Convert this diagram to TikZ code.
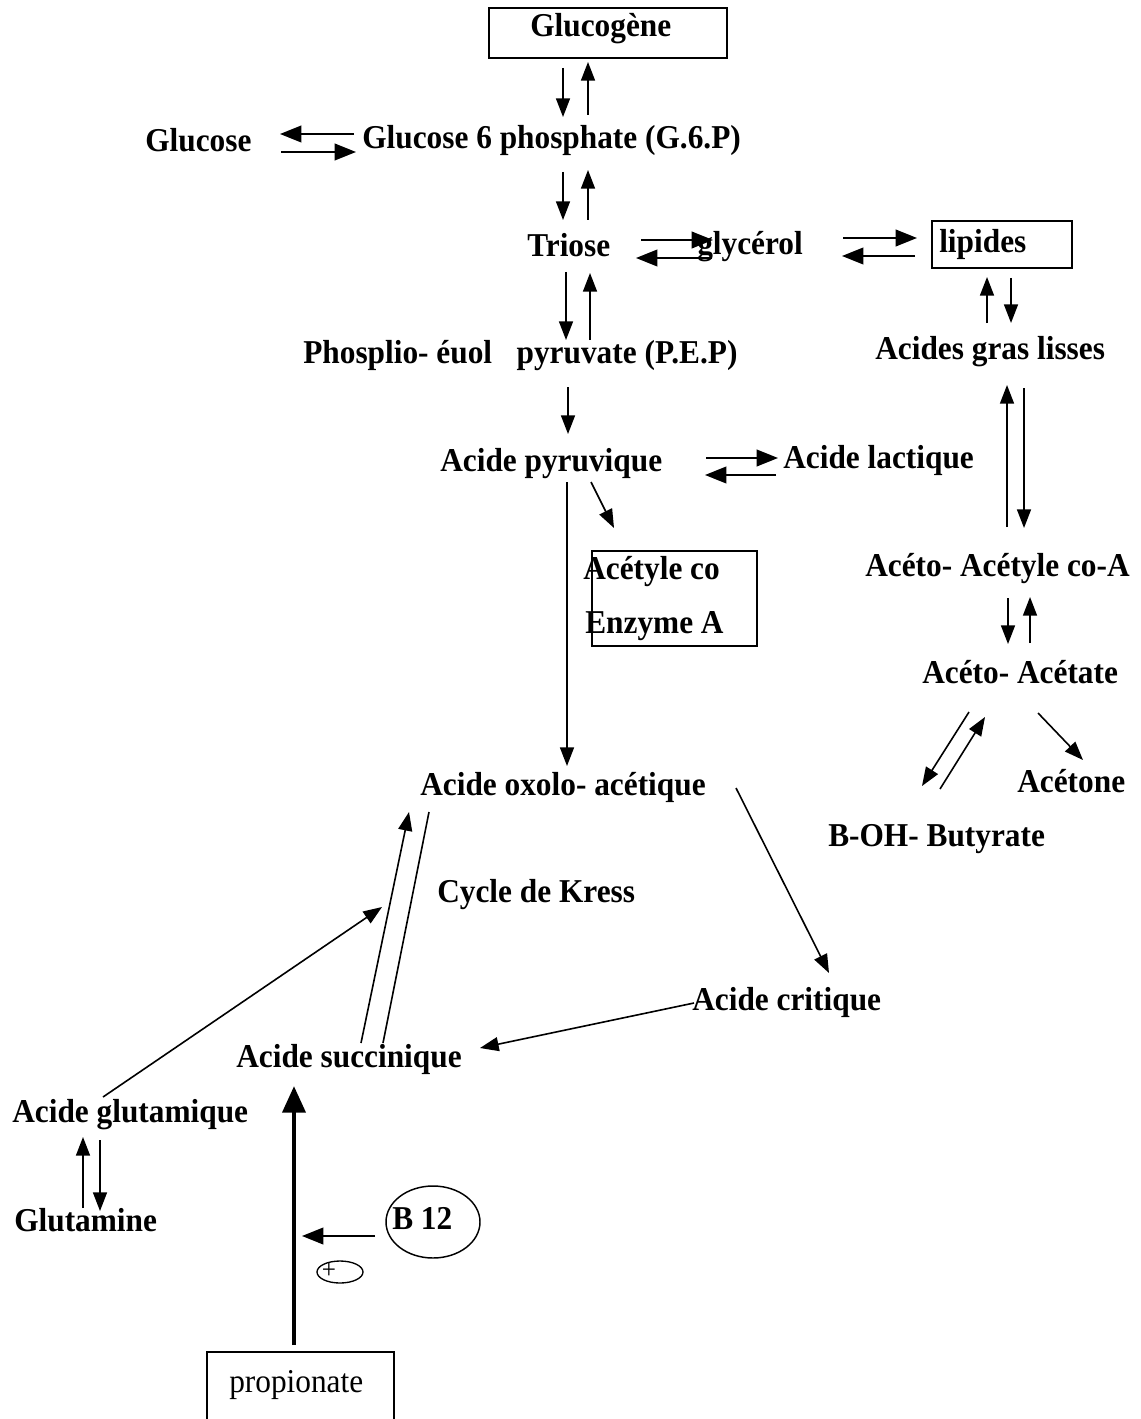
\documentclass[tikz,border=0pt]{standalone}
\usepackage{fontspec}
\setmainfont[FakeStretch=0.94]{Liberation Serif}
\usetikzlibrary{arrows.meta,shapes.geometric}
\begin{document}
\begin{tikzpicture}[x=0.75pt,y=-0.75pt,
  lbl/.style={anchor=base west,inner sep=0pt,font=\fontsize{25}{28}\selectfont\bfseries},
  plainlbl/.style={anchor=base west,inner sep=0pt,font=\fontsize{25}{28}\selectfont},
  boxnode/.style={draw,line width=1.5pt,rectangle,inner sep=0pt},
  arr/.style={line width=1.2pt,-{Triangle[length=14pt,width=10.5pt]}},
  harr/.style={line width=1.4pt,-{Triangle[length=16pt,width=12.5pt]}},
  ln/.style={line width=1.2pt},
  thickarr/.style={line width=3.6pt,-{Triangle[length=20pt,width=17pt]}}]
\useasboundingbox (0,0) rectangle (1140,1419);
% boxes
\node[boxnode,minimum width=178.5pt,minimum height=37.5pt] (bglyc) at (608,33) {};
\node[boxnode,minimum width=105pt,minimum height=35.25pt] (blip) at (1002,244.5) {};
\node[boxnode,minimum width=123.75pt,minimum height=71.25pt] (bacet) at (674.5,598.5) {};
\draw[line width=1.5pt] (207,1430) -- (207,1352) -- (394,1352) -- (394,1430);
\coordinate (bprop) at (300,1352);
% labels
\node[lbl] (glucogene) at (530,37) {Glucogène};
\node[lbl] (glucose) at (145,152) {Glucose};
\node[lbl] (g6p) at (362,149) {Glucose 6 phosphate (G.6.P)};
\node[lbl] (triose) at (527,257) {Triose};
\node[lbl] (glycerol) at (697,255) {glycérol};
\node[lbl] (lipides) at (939,253) {lipides};
\node[lbl] (pep) at (303,363) {Phosplio- éuol\enspace\ pyruvate (P.E.P)};
\node[lbl] (agl) at (875,359) {Acides gras lisses};
\node[lbl] (pyr) at (440,471) {Acide pyruvique};
\node[lbl] (lact) at (783,468) {Acide lactique};
\node[lbl] (acet1) at (583,579) {Acétyle co};
\node[lbl] (acet2) at (585,633) {Enzyme A};
\node[lbl] (aacoa) at (865,576) {Acéto- Acétyle co-A};
\node[lbl] (aa) at (922,683) {Acéto- Acétate};
\node[lbl] (acetone) at (1017,792) {Acétone};
\node[lbl] (boh) at (828,846) {B-OH- Butyrate};
\node[lbl] (oxolo) at (420,795) {Acide oxolo- acétique};
\node[lbl] (kress) at (437,902) {Cycle de Kress};
\node[lbl] (crit) at (692,1010) {Acide critique};
\node[lbl] (succ) at (236,1067) {Acide succinique};
\node[lbl] (glutq) at (12,1122) {Acide glutamique};
\node[lbl] (glutn) at (14,1231) {Glutamine};
\node[plainlbl] (prop) at (229,1392) {propionate};
\node[draw,ellipse,line width=1.1pt,minimum width=70.5pt,minimum height=54pt,inner sep=0pt] (b12e) at (433,1222) {};
\node[lbl] (b12) at (392,1229) {B 12};
\node[draw,ellipse,line width=1pt,minimum width=34.5pt,minimum height=16.5pt,inner sep=0pt] (pluse) at (340,1272) {};
\node[inner sep=0pt,font=\fontsize{20}{20}\selectfont] (plus) at (329,1271) {+};
% arrow endpoints
\coordinate (a1s) at (563,68); \coordinate (a1e) at (563,117);
\coordinate (a2s) at (588,115); \coordinate (a2e) at (588,62);
\coordinate (g1s) at (354,134); \coordinate (g1e) at (280,134);
\coordinate (g2s) at (281,152); \coordinate (g2e) at (356,152);
\coordinate (a3s) at (563,172); \coordinate (a3e) at (563,220);
\coordinate (a4s) at (588,220); \coordinate (a4e) at (588,170);
\coordinate (t1s) at (641,240); \coordinate (t1e) at (713,240);
\coordinate (t2s) at (712,258); \coordinate (t2e) at (636,258);
\coordinate (l1s) at (843,238); \coordinate (l1e) at (917,238);
\coordinate (l2s) at (915,256); \coordinate (l2e) at (842,256);
\coordinate (a5s) at (566,272); \coordinate (a5e) at (566,340);
\coordinate (a6s) at (590,340); \coordinate (a6e) at (590,273);
\coordinate (la1s) at (987,323); \coordinate (la1e) at (987,277);
\coordinate (la2s) at (1011,278); \coordinate (la2e) at (1011,323);
\coordinate (p1s) at (568,387); \coordinate (p1e) at (568,434);
\coordinate (pl1s) at (706,458); \coordinate (pl1e) at (778,458);
\coordinate (pl2s) at (776,475); \coordinate (pl2e) at (705,475);
\coordinate (ag1s) at (1007,527); \coordinate (ag1e) at (1007,385);
\coordinate (ag2s) at (1024,388); \coordinate (ag2e) at (1024,528);
\coordinate (pa1s) at (591,482); \coordinate (pa1e) at (614,528);
\coordinate (po1s) at (567,482); \coordinate (po1e) at (567,766);
\coordinate (aa1s) at (1008,598); \coordinate (aa1e) at (1008,644);
\coordinate (aa2s) at (1030,643); \coordinate (aa2e) at (1030,597);
\coordinate (bo1s) at (969,712); \coordinate (bo1e) at (922,786);
\coordinate (bo2s) at (940,789); \coordinate (bo2e) at (985,717);
\coordinate (ac1s) at (1038,713); \coordinate (ac1e) at (1083,760);
\coordinate (oc1s) at (736,788); \coordinate (oc1e) at (829,973);
\coordinate (cs1s) at (694,1003); \coordinate (cs1e) at (480,1048);
\coordinate (so1s) at (361,1043); \coordinate (so1e) at (409,812);
\coordinate (so2s) at (383,1043); \coordinate (so2e) at (429,812);
\coordinate (gk1s) at (103,1097); \coordinate (gk1e) at (382,907);
\coordinate (gg1s) at (83,1208); \coordinate (gg1e) at (83,1137);
\coordinate (gg2s) at (100,1140); \coordinate (gg2e) at (100,1211);
\coordinate (ths) at (294,1345); \coordinate (the) at (294,1086);
\coordinate (b12s) at (375,1236); \coordinate (b12t) at (302,1236);
% arrows
\draw[arr] (a1s) -- (a1e); \draw[arr] (a2s) -- (a2e);
\draw[harr] (g1s) -- (g1e); \draw[harr] (g2s) -- (g2e);
\draw[arr] (a3s) -- (a3e); \draw[arr] (a4s) -- (a4e);
\draw[harr] (t1s) -- (t1e); \draw[harr] (t2s) -- (t2e);
\draw[harr] (l1s) -- (l1e); \draw[harr] (l2s) -- (l2e);
\draw[arr] (a5s) -- (a5e); \draw[arr] (a6s) -- (a6e);
\draw[arr] (la1s) -- (la1e); \draw[arr] (la2s) -- (la2e);
\draw[arr] (p1s) -- (p1e);
\draw[harr] (pl1s) -- (pl1e); \draw[harr] (pl2s) -- (pl2e);
\draw[arr] (ag1s) -- (ag1e); \draw[arr] (ag2s) -- (ag2e);
\draw[arr] (pa1s) -- (pa1e);
\draw[arr] (po1s) -- (po1e);
\draw[arr] (aa1s) -- (aa1e); \draw[arr] (aa2s) -- (aa2e);
\draw[arr] (bo1s) -- (bo1e); \draw[arr] (bo2s) -- (bo2e);
\draw[arr] (ac1s) -- (ac1e);
\draw[arr] (oc1s) -- (oc1e);
\draw[arr] (cs1s) -- (cs1e);
\draw[arr] (so1s) -- (so1e); \draw[ln] (so2s) -- (so2e);
\draw[arr] (gk1s) -- (gk1e);
\draw[arr] (gg1s) -- (gg1e); \draw[arr] (gg2s) -- (gg2e);
\draw[thickarr] (ths) -- (the);
\draw[harr] (b12s) -- (b12t);
\end{tikzpicture}
\end{document}
